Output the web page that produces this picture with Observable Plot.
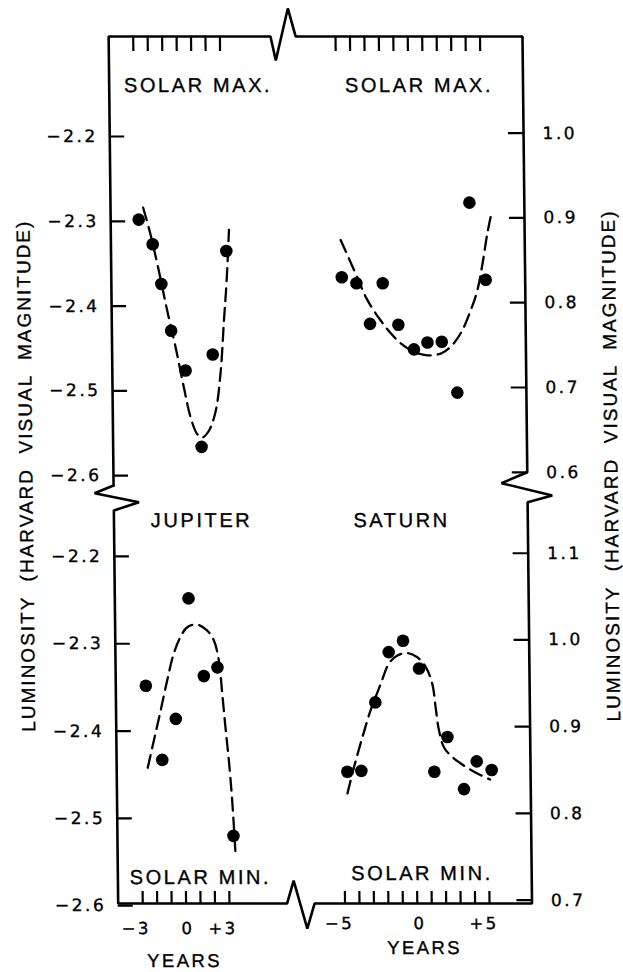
<!DOCTYPE html>
<html><head><meta charset="utf-8">
<script src="https://cdn.jsdelivr.net/npm/d3@7"></script>
<script src="https://cdn.jsdelivr.net/npm/@observablehq/plot@0.6"></script>
<style>
html,body{margin:0;padding:0;background:#fff;overflow:hidden;}
#chart svg{display:block;transform:skewX(0.63deg);transform-origin:0 486px;}
#chart g[font-size="17"]{letter-spacing:2.5px;}
#chart g[font-size="16.5"]{letter-spacing:2.5px;}
#chart g[font-size="20"]{letter-spacing:2.6px;}
#chart g[font-size="18.5"]{letter-spacing:2.4px;}
#chart g[font-size="19"]{letter-spacing:2px;}
</style></head><body><div id="chart"></div>
<script>
// ---------- data ----------
// Jupiter, solar maximum
const jupiterMaxYears = [-2.76, -1.81, -1.24, -0.60, 0.37, 1.42, 2.26, 3.28];
const jupiterMaxMag   = [-2.298, -2.327, -2.374, -2.429, -2.476, -2.566, -2.457, -2.335];
const jupiterMaxFitYears = [-2.44, -1.96, -1.41, -0.86, -0.31, 0.24, 0.68, 1.13, 1.47, 1.94, 2.42, 2.80, 3.06, 3.28, 3.48];
const jupiterMaxFitMag   = [-2.284, -2.315, -2.358, -2.405, -2.448, -2.496, -2.531, -2.551, -2.555, -2.547, -2.524, -2.477, -2.418, -2.370, -2.310];
// Saturn, solar maximum
const saturnMaxYears = [-4.75, -3.74, -2.83, -1.92, -0.87, 0.19, 1.13, 2.12, 3.16, 4.14, 5.21];
const saturnMaxMag   = [0.830, 0.823, 0.775, 0.823, 0.774, 0.745, 0.753, 0.754, 0.694, 0.918, 0.827];
const saturnMaxFitYears = [-4.80, -3.78, -2.99, -2.09, -1.40, -0.72, 0.19, 1.12, 2.04, 2.73, 3.44, 4.15, 4.63, 5.00, 5.36, 5.65];
const saturnMaxFitMag   = [0.874, 0.834, 0.803, 0.779, 0.764, 0.752, 0.742, 0.738, 0.740, 0.748, 0.764, 0.791, 0.815, 0.846, 0.882, 0.905];
// Jupiter, solar minimum
const jupiterMinYears = [-2.62, -1.54, -0.57, 0.40, 1.40, 2.35, 3.33];
const jupiterMinMag   = [-2.348, -2.433, -2.386, -2.248, -2.337, -2.327, -2.520];
const jupiterMinFitYears = [-2.55, -2.11, -1.62, -1.14, -0.66, -0.18, 0.29, 0.98, 1.67, 2.12, 2.45, 2.66, 2.86, 3.07, 3.27, 3.46];
const jupiterMinFitMag   = [-2.442, -2.411, -2.377, -2.342, -2.311, -2.292, -2.281, -2.278, -2.285, -2.296, -2.319, -2.357, -2.396, -2.434, -2.480, -2.541];
// Saturn, solar minimum
const saturnMinYears = [-4.74, -3.77, -2.75, -1.79, -0.79, 0.30, 1.28, 2.21, 3.32, 4.22, 5.25];
const saturnMinMag   = [0.848, 0.849, 0.928, 0.986, 0.999, 0.967, 0.848, 0.888, 0.828, 0.860, 0.850];
const saturnMinFitYears = [-4.75, -4.28, -3.67, -3.08, -2.37, -1.77, -1.19, -0.49, 0.19, 0.76, 1.21, 1.42, 1.63, 1.97, 2.54, 3.34, 4.26, 5.13];
const saturnMinFitMag   = [0.823, 0.853, 0.888, 0.919, 0.949, 0.973, 0.982, 0.985, 0.980, 0.969, 0.949, 0.922, 0.896, 0.876, 0.865, 0.855, 0.846, 0.839];

// tick values and labels
const jupiterMagTicks = [-2.2, -2.3, -2.4, -2.5, -2.6];
const saturnMaxTicks  = [1.0, 0.9, 0.8, 0.7, 0.6];
const saturnMinTicks  = [1.1, 1.0, 0.9, 0.8, 0.7];
const jupiterYearTicks = [-3, -2, -1, 0, 1, 2, 3];
const saturnYearTicks  = [-5, -4, -3, -2, -1, 0, 1, 2, 3, 4, 5];
const jupiterYearLabels = [-3, 0, 3];
const saturnYearLabels  = [-5, 0, 5];
const yTitle = "LUMINOSITY  (HARVARD  VISUAL  MAGNITUDE)";

// ---------- layout: each panel mapped into one shared (Jupiter-based) coordinate frame ----------
const SATURN_SHIFT = 16;
const toX = {jupiter: t => t, saturn: t => t + SATURN_SHIFT};
const toY = {
  jupiterMax: m => m,
  saturnMax: v => v - 3.196,
  jupiterMin: m => -2.7982 + (m + 2.3) * 1.0295,
  saturnMin: v => -2.7937 + (v - 1) * 1.0224
};
const panels = [
  {planet: "jupiter", phase: "Max", ys: jupiterMaxYears, ms: jupiterMaxMag, fy: jupiterMaxFitYears, fm: jupiterMaxFitMag},
  {planet: "saturn",  phase: "Max", ys: saturnMaxYears,  ms: saturnMaxMag,  fy: saturnMaxFitYears,  fm: saturnMaxFitMag},
  {planet: "jupiter", phase: "Min", ys: jupiterMinYears, ms: jupiterMinMag, fy: jupiterMinFitYears, fm: jupiterMinFitMag},
  {planet: "saturn",  phase: "Min", ys: saturnMinYears,  ms: saturnMinMag,  fy: saturnMinFitYears,  fm: saturnMinFitMag}
];
const conv = (p, years, mags, k) => years.map((t, i) => ({x: toX[p.planet](t), y: toY[p.planet + p.phase](mags[i]), k}));
const dots = panels.flatMap((p, k) => conv(p, p.ys, p.ms, k));
const fits = panels.flatMap((p, k) => conv(p, p.fy, p.fm, k));

// frame (broken box) in the shared frame
const L = -4.7, R = 23.94, T = -2.082, B = -3.1045;
const frame = [
  [L, -2.6116], [L, T], [6.5, T], [6.85, -2.1104], [7.72, -2.049], [8.24, T], [R, T],
  [R, -2.596], [22.15, -2.6088], [25.65, -2.6233], [R, -2.6313], [R, B],
  [8.89, B], [8.37, -3.134], [7.46, -3.0774], [6.99, B], [L, B],
  [L, -2.641], [-2.955, -2.6313], [-6.02, -2.6206], [L, -2.6116]
].map(([x, y]) => ({x, y}));

const fmtMag = v => (v < 0 ? "\u2212" : "") + Math.abs(v).toFixed(1);
const fmtYear = v => v < 0 ? "\u2212" + Math.abs(v) : v > 0 ? "+" + v : "0";
const tickLenX = 1.04, tickLenTop = 0.0177, tickLenBot = 0.0142;
const word = "Liberation Sans, Arial, sans-serif";
const num = "DejaVu Sans, sans-serif";
const ink = {fill: "black", stroke: "black", strokeWidth: 0.35};

const yTickRows = [
  ...jupiterMagTicks.map(v => ({y: toY.jupiterMax(v), v, side: "L"})),
  ...jupiterMagTicks.map(v => ({y: toY.jupiterMin(v), v, side: "L"})),
  ...saturnMaxTicks.map(v => ({y: toY.saturnMax(v), v, side: "R"})),
  ...saturnMinTicks.map(v => ({y: toY.saturnMin(v), v, side: "R"}))
];
const xTickCols = [
  ...jupiterYearTicks.map(t => toX.jupiter(t)),
  ...saturnYearTicks.map(t => toX.saturn(t))
];

const plot = Plot.plot({
  width: 623, height: 972,
  marginTop: 0, marginBottom: 0, marginLeft: 0, marginRight: 0,
  x: {domain: [-181 / 14.45, 442 / 14.45], axis: null},
  y: {domain: [-2.2 - 836 / 848, -2.2 + 136 / 848], axis: null},
  style: {background: "white", color: "black"},
  marks: [
    Plot.line(frame, {x: "x", y: "y", stroke: "black", strokeWidth: 2.6, strokeLinejoin: "miter", strokeLinecap: "square"}),
    // y ticks
    Plot.ruleY(yTickRows.filter(d => d.side === "L"), {y: "y", x1: () => L, x2: () => L + tickLenX, stroke: "black", strokeWidth: 2.2}),
    Plot.ruleY(yTickRows.filter(d => d.side === "R"), {y: "y", x1: () => R - tickLenX, x2: () => R, stroke: "black", strokeWidth: 2.2}),
    // x ticks top and bottom
    Plot.ruleX(xTickCols, {x: d => d, y1: () => T, y2: () => T - tickLenTop, stroke: "black", strokeWidth: 2.2}),
    Plot.ruleX(xTickCols, {x: d => d, y1: () => B, y2: () => B + tickLenBot, stroke: "black", strokeWidth: 2.2}),
    // y tick labels
    Plot.text(yTickRows.filter(d => d.side === "L"), {x: () => L, y: "y", text: d => fmtMag(d.v), textAnchor: "end", dx: -12, fontSize: 17, fontFamily: num, ...ink}),
    Plot.text(yTickRows.filter(d => d.side === "R"), {x: () => R, y: "y", text: d => fmtMag(d.v), textAnchor: "start", dx: 19, fontSize: 17, fontFamily: num, ...ink}),
    // x tick labels
    Plot.text(jupiterYearLabels, {x: d => toX.jupiter(d), y: () => -3.134, text: fmtYear, textAnchor: "end", dx: 8, fontSize: 16.5, fontFamily: num, ...ink}),
    Plot.text(saturnYearLabels, {x: d => toX.saturn(d), y: () => -3.128, text: fmtYear, textAnchor: "end", dx: 9, fontSize: 16.5, fontFamily: num, ...ink}),
    Plot.text(["YEARS"], {x: () => -0.15, y: () => -3.172, text: d => d, fontSize: 18.5, fontFamily: word, ...ink}),
    Plot.text(["YEARS"], {x: () => 16.47, y: () => -3.1575, text: d => d, fontSize: 18.5, fontFamily: word, ...ink}),
    // panel labels
    Plot.text(["SOLAR MAX."], {x: () => 1.45, y: () => -2.14, text: d => d, fontSize: 20, fontFamily: word, ...ink}),
    Plot.text(["SOLAR MAX."], {x: () => 16.74, y: () => -2.14, text: d => d, fontSize: 20, fontFamily: word, ...ink}),
    Plot.text(["JUPITER"], {x: () => 1.36, y: () => -2.653, text: d => d, fontSize: 20, fontFamily: word, ...ink}),
    Plot.text(["SATURN"], {x: () => 15.2, y: () => -2.653, text: d => d, fontSize: 20, fontFamily: word, ...ink}),
    Plot.text(["SOLAR MIN."], {x: () => 1.01, y: () => -3.0735, text: d => d, fontSize: 20, fontFamily: word, ...ink}),
    Plot.text(["SOLAR MIN."], {x: () => 16.35, y: () => -3.069, text: d => d, fontSize: 20, fontFamily: word, ...ink}),
    // axis titles
    Plot.text([yTitle], {x: () => -10.73, y: () => -2.6, text: d => d, rotate: -90, fontSize: 19, fontFamily: word, ...ink}),
    Plot.text([yTitle], {x: () => 29.76, y: () => -2.588, text: d => d, rotate: -90, fontSize: 19, fontFamily: word, ...ink}),
    // fitted dashed curves and observations
    Plot.line(fits, {x: "x", y: "y", z: "k", curve: "catmull-rom", stroke: "black", strokeWidth: 2.3, strokeDasharray: "13,7"}),
    Plot.dot(dots, {x: "x", y: "y", r: 6.3, fill: "black", stroke: "none"})
  ]
});
document.getElementById("chart").append(plot);
</script></body></html>
